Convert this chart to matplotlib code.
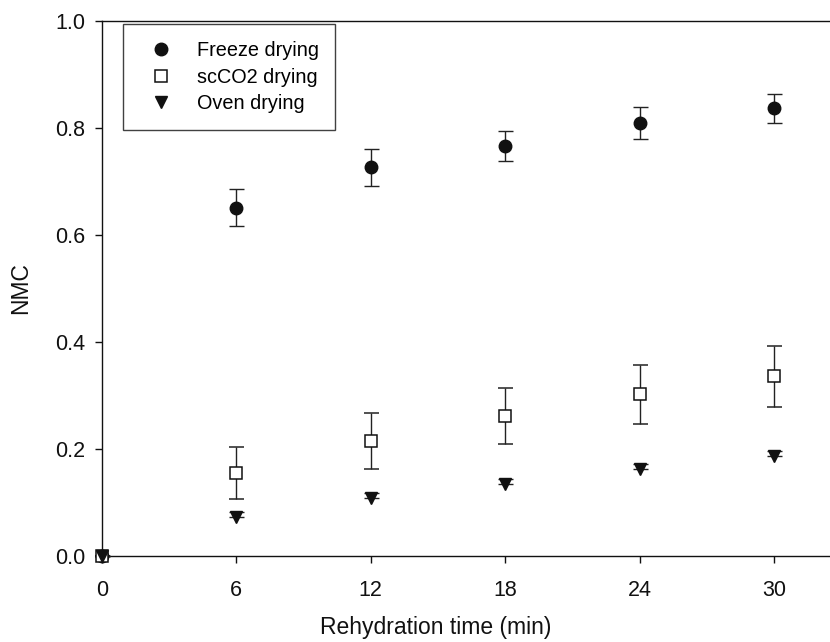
import matplotlib
matplotlib.use("Agg")
import matplotlib.pyplot as plt
import numpy as np

plt.rcParams['font.family'] = ['Liberation Sans', 'DejaVu Sans']

# rehydration time (min)
time = [0, 6, 12, 18, 24, 30]

freeze = [0.0, 0.651, 0.726, 0.766, 0.809, 0.836]
freeze_err = [0.0, 0.034, 0.034, 0.028, 0.030, 0.028]

scco2 = [0.0, 0.155, 0.215, 0.262, 0.302, 0.336]
scco2_err = [0.0, 0.049, 0.052, 0.052, 0.055, 0.057]

oven = [0.0, 0.073, 0.108, 0.134, 0.162, 0.187]
# only the upper cap shows above the triangles
oven_err_lo = [0.0, 0.0, 0.0, 0.0, 0.0, 0.0]
oven_err_hi = [0.0, 0.009, 0.009, 0.009, 0.009, 0.009]

series = [
    ("Freeze drying", freeze, freeze_err, dict(marker='o', ms=9, mfc='#111111', mec='#111111')),
    ("scCO2 drying", scco2, scco2_err, dict(marker='s', ms=8, mfc='white', mec='#111111', mew=1.1)),
    ("Oven drying", oven, [oven_err_lo, oven_err_hi], dict(marker='v', ms=9, mfc='#111111', mec='#111111')),
]

fig = plt.figure(figsize=(8.3, 6.42), dpi=100)
# axes runs off the right side of the picture, like the cropped original
ax = fig.add_axes([101.7 / 830, 86 / 642, 739.5 / 830, 535.3 / 642])

handles = []
for label, y, e, style in series:
    h = ax.errorbar(time, y, yerr=e, linestyle='none', ecolor='#222222',
                    elinewidth=1.0, capsize=5.4, capthick=1.0, label=label,
                    clip_on=False, zorder=3, **style)
    for art in h.lines[1] + h.lines[2]:
        art.set_clip_on(False)
    handles.append(h[0])

ax.set_xlim(0, 33)
ax.set_ylim(0, 1.0)
ax.set_xticks(time)
ax.set_yticks(np.arange(0, 1.01, 0.2))
ax.set_yticklabels(["%.1f" % v for v in np.arange(0, 1.01, 0.2)])

ax.spines['right'].set_visible(False)
for s in ['left', 'bottom', 'top']:
    ax.spines[s].set_linewidth(1.0)
    ax.spines[s].set_color('#111111')

ax.tick_params(axis='both', direction='out', length=5, width=1.0,
               colors='#111111', labelsize=15.5)
ax.tick_params(axis='x', pad=12)
ax.tick_params(axis='y', pad=7)

ax.set_xlabel("Rehydration time (min)", fontsize=16.5, color='#111111')
ax.set_ylabel("NMC", fontsize=16.5, color='#111111')
ax.xaxis.set_label_coords((436 - 101.7) / 739.5, (556 - 616) / 535.3)
ax.yaxis.set_label_coords((32 - 101.7) / 739.5, 0.5)

leg = ax.legend(handles, [s[0] for s in series], loc='upper left',
                bbox_to_anchor=(123.3 / 830, 1 - 24.3 / 642),
                bbox_transform=fig.transFigure, borderaxespad=0,
                fontsize=14.3, frameon=True, fancybox=False,
                borderpad=0.85, handlelength=2.06, handletextpad=0.78,
                labelspacing=0.37, numpoints=1)
leg.get_frame().set_edgecolor('#111111')
leg.get_frame().set_linewidth(1.0)

fig.savefig("out.png", dpi=100)
